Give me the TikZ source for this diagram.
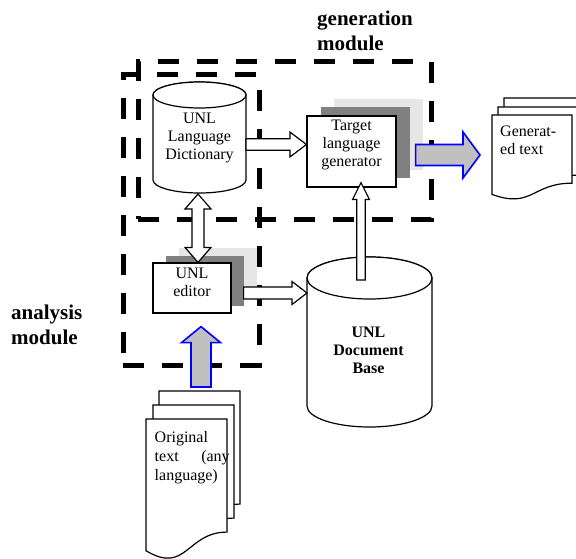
\documentclass[tikz,border=0pt]{standalone}
\usepackage{fontspec}
\setmainfont{Liberation Serif}
\usetikzlibrary{calc}
\definecolor{shdark}{RGB}{128,128,128}
\definecolor{shlight}{RGB}{230,230,230}
\definecolor{arrgray}{RGB}{192,192,192}
\definecolor{arrblue}{RGB}{0,0,255}
\tikzset{
 modbox/.style={draw, line width=5pt, dash pattern=on 21pt off 18pt, inner sep=0pt},
 modlabel/.style={font=\bfseries\fontsize{21pt}{25pt}\selectfont, align=left, inner sep=0pt},
 txt/.style={font=\fontsize{16pt}{18pt}\selectfont, inner sep=0pt},
 btxt/.style={font=\bfseries\fontsize{16pt}{18pt}\selectfont, inner sep=0pt},
 outl/.style={draw=black, line width=1.2pt, fill=white},
 shL/.style={fill=shlight, draw=none, inner sep=0pt},
 shD/.style={fill=shdark, draw=none, inner sep=0pt},
 plainbox/.style={outl, inner sep=0pt},
 hollowarr/.style={draw=black, line width=1.2pt, fill=white, line join=miter},
 bluearr/.style={draw=arrblue, line width=1.6pt, fill=arrgray, line join=miter},
 tgtsize/.style={minimum width=89pt, minimum height=71pt},
 edsize/.style={minimum width=78pt, minimum height=50pt},
 anchorbox/.style={inner sep=0pt, outer sep=0pt},
}
% block arrow: [style]{from}{to}{shaft half}{head half}{head length}
\newcommand\blockarrow[6][]{%
  \coordinate (ba-h) at ($(#3)!#6!(#2)$);
  \path[#1] ($(#2)!#4!90:(#3)$) -- ($(ba-h)!#4!90:(#3)$) -- ($(ba-h)!#5!90:(#3)$) -- (#3)
     -- ($(ba-h)!#5!-90:(#3)$) -- ($(ba-h)!#4!-90:(#3)$) -- ($(#2)!#4!-90:(#3)$) -- cycle;}
\newcommand\dblarrow[6][]{%
  \coordinate (da-a) at ($(#2)!#6!(#3)$);
  \coordinate (da-b) at ($(#3)!#6!(#2)$);
  \path[#1] (#2) -- ($(da-a)!#5!90:(#3)$) -- ($(da-a)!#4!90:(#3)$) -- ($(da-b)!#4!90:(#3)$)
     -- ($(da-b)!#5!90:(#3)$) -- (#3) -- ($(da-b)!#5!-90:(#3)$) -- ($(da-b)!#4!-90:(#3)$)
     -- ($(da-a)!#4!-90:(#3)$) -- ($(da-a)!#5!-90:(#3)$) -- cycle;}
% document page: {x}{y}{w}{h}
\newcommand\docpage[4]{%
  \filldraw[outl] (#1,#2) -- ({#1+#3},#2) -- ({#1+#3},{#2+0.802*#4})
    .. controls ({#1+0.5*#3},{#2+0.802*#4}) and ({#1+0.5*#3},{#2+1.107*#4}) .. (#1,{#2+0.934*#4}) -- cycle;}
\begin{document}
\begin{tikzpicture}[x=1pt,y=-1pt]
\useasboundingbox (0,0) rectangle (576,559);
% module boxes
\node[modbox, minimum width=293pt, minimum height=157pt] (genmod) at (284.5,140.5) {};
\node[modbox, minimum width=136pt, minimum height=290pt] (anamod) at (191,220) {};
\node[modlabel, anchor=west] (genlbl) at (317,30.5) {generation\\module};
\node[modlabel, anchor=west] (analbl) at (11,325) {analysis\\module};
% dictionary cylinder
\filldraw[outl] (153,95) -- (153,180) arc[start angle=180,end angle=360,x radius=46.5pt,y radius=13pt]
  -- (246,95) arc[start angle=0,end angle=180,x radius=46.5pt,y radius=13pt] -- cycle;
\draw[outl] (199.5,95) ellipse[x radius=46.5pt,y radius=13pt];
\node[anchorbox, minimum width=93pt, minimum height=111pt] (dict) at (199.5,137.5) {};
\node[txt, align=center, anchor=north] (dicttxt) at (199.5,113) {UNL\\Language\\Dictionary};
% target language generator
\coordinate (tgtc) at (351.5,151.5);
\node[shL, tgtsize] (tgtL) at ($(tgtc)+(27,-17)$) {};
\node[shD, tgtsize] (tgtD) at ($(tgtc)+(14,-9)$) {};
\node[plainbox, tgtsize] (tgt) at (tgtc) {};
\node[txt, align=center, anchor=north] (tgttxt) at ([yshift=-4.7pt]tgt.north) {Target\\language\\generator};
% editor
\coordinate (edc) at (192,288);
\node[shL, edsize] (edL) at ($(edc)+(26,-15)$) {};
\node[shD, edsize] (edD) at ($(edc)+(13,-7)$) {};
\node[plainbox, edsize] (editor) at (edc) {};
\node[txt, align=center, anchor=north] (edtxt) at ([yshift=-5.3pt]editor.north) {UNL\\editor};
% document base cylinder
\filldraw[outl] (307,278) -- (307,406) arc[start angle=180,end angle=360,x radius=62.5pt,y radius=21pt]
  -- (432,278) arc[start angle=0,end angle=180,x radius=62.5pt,y radius=21pt] -- cycle;
\draw[outl] (369.5,278) ellipse[x radius=62.5pt,y radius=21pt];
\node[anchorbox, minimum width=125pt, minimum height=170pt] (docbase) at (369.5,342) {};
\node[btxt, align=center, anchor=north] (dbtxt) at (368.5,327) {UNL\\Document\\Base};
% generated text
\docpage{504}{98}{80}{85}
\docpage{498}{107}{80}{85}
\docpage{492}{115}{80}{85}
\node[anchorbox, minimum width=80pt, minimum height=85pt, anchor=north west] (gen) at (492,115) {};
\node[txt, align=left, anchor=north west] (gentxt) at (500,125.5) {Generat-\\ed text};
% original text
\docpage{159}{391}{81}{141}
\docpage{153}{405}{81}{141}
\docpage{146}{419}{81}{141}
\node[anchorbox, minimum width=81pt, minimum height=141pt, anchor=north west] (orig) at (146,419) {};
\node[font=\fontsize{16pt}{19pt}\selectfont, inner sep=0pt, align=left, text width=75pt, anchor=north west] (origtxt) at (154.5,431.5) {Original\\text\hfill(any\\language)};
% connectors
\coordinate (a1s) at ([yshift=-7pt]dict.east);
\coordinate (a1e) at (a1s -| tgt.west);
\blockarrow[hollowarr]{a1s}{a1e}{5.8pt}{12.5pt}{16.5pt}
\coordinate (a2s) at ([xshift=-1.5pt,yshift=-1pt]dict.south);
\coordinate (a2e) at (a2s |- editor.north);
\dblarrow[hollowarr]{a2s}{a2e}{6pt}{13pt}{15pt}
\coordinate (a3s) at ([shift={(12pt,-5pt)}]editor.east);
\coordinate (a3e) at (a3s -| docbase.west);
\blockarrow[hollowarr]{a3s}{a3e}{6pt}{11.5pt}{15pt}
\coordinate (a4s) at ([shift={(-8.5pt,-23pt)}]docbase.north);
\coordinate (a4e) at ($(a4s |- tgt.south)+(0,-5)$);
\blockarrow[hollowarr]{a4s}{a4e}{4.3pt}{8.5pt}{17pt}
\coordinate (a5s) at ([shift={(19pt,-3.5pt)}]tgt.east);
\coordinate (a5e) at ($(a5s -| gen.west)+(-12,0)$);
\blockarrow[bluearr]{a5s}{a5e}{10.5pt}{23pt}{17pt}
\coordinate (a6e) at ([shift={(9pt,-13pt)}]editor.south);
\coordinate (a6s) at ($(a6e |- orig.north)+(0,-32)$);
\blockarrow[bluearr]{a6s}{a6e}{10pt}{19.5pt}{16pt}
\end{tikzpicture}
\end{document}
